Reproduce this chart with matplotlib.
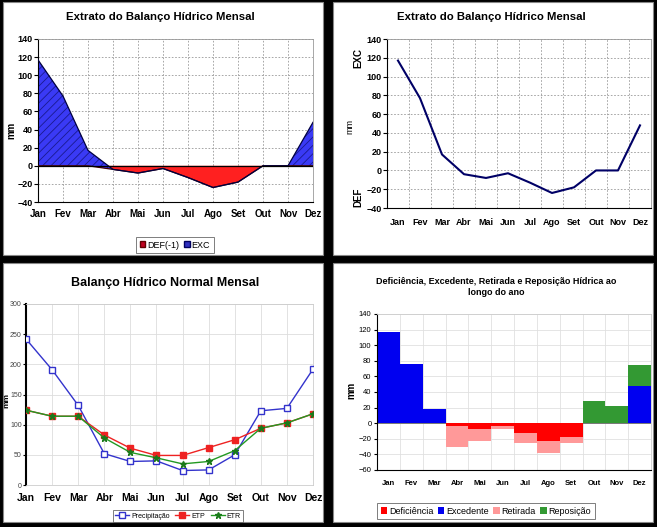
import matplotlib
matplotlib.use("Agg")
import matplotlib.pyplot as plt
from matplotlib.patches import Rectangle, Patch
import numpy as np

plt.rcParams['font.family'] = ['Liberation Sans', 'DejaVu Sans']
plt.rcParams['hatch.linewidth'] = 0.6

meses = ['Jan', 'Fev', 'Mar', 'Abr', 'Mai', 'Jun', 'Jul', 'Ago', 'Set', 'Out', 'Nov', 'Dez']

# Extrato
exc = [117, 77, 17, 0, 0, 0, 0, 0, 0, 0, 0, 48]
deficit = [0, 0, 0, -4, -8, -3, -13, -24, -18, 0, 0, 0]

# Balanço normal
precip = [242, 191, 132, 52, 39, 40, 24, 25, 50, 123, 127, 192]
etp = [124, 114, 114, 83, 61, 49, 49, 62, 75, 94, 103, 118]
etr = [124, 114, 114, 78, 54, 45, 35, 39, 57, 94, 103, 118]

# Barras
excedente = [117, 76, 18, 0, 0, 0, 0, 0, 0, 0, 0, 48]
reposicao = [0, 0, 0, 0, 0, 0, 0, 0, 0, 28, 22, 27]
deficiencia = [0, 0, 0, -4, -8, -3, -12, -23, -18, 0, 0, 0]
retirada = [0, 0, 0, -27, -15, -5, -13, -15, -8, 0, 0, 0]

W, H = 657, 527
fig = plt.figure(figsize=(W / 100, H / 100), dpi=100)
fig.patch.set_facecolor('black')


def rect(l, t, r, b):
    return [l / W, 1 - b / H, (r - l) / W, (b - t) / H]


def panel(l, t, r, b):
    fig.add_artist(Rectangle((l / W, 1 - b / H), (r - l) / W, (b - t) / H,
                             transform=fig.transFigure, facecolor='white',
                             edgecolor='#888888', linewidth=0.8, zorder=0))


panel(3, 2, 323, 255)
panel(333, 2, 653, 255)
panel(3, 263, 323, 522)
panel(333, 263, 653, 522)

x = np.arange(12)
ex = np.array(exc)
de = np.array(deficit)

# ---------- Panel 1 ----------
ax1 = fig.add_axes(rect(38, 39, 313, 202))
ax1.fill_between(x, 0, de, facecolor='#FF2020', linewidth=0, zorder=2)
ax1.fill_between(x, de, de + ex, facecolor='#3A3AF5', edgecolor='#1A1A90', hatch='////', linewidth=0, zorder=2)
ax1.plot(x, de, color='#400000', lw=0.9, zorder=3)
ax1.plot(x, de + ex, color='#000040', lw=0.9, zorder=3)
ax1.axhline(0, color='black', lw=0.9, zorder=3)
ax1.set_xlim(0, 11)
ax1.set_ylim(-40, 140)
ax1.set_yticks(range(-40, 141, 20))
ax1.set_xticks(x)
ax1.set_xticklabels(meses, fontsize=7, fontweight='bold')
ax1.tick_params(axis='y', labelsize=6.5, length=3, pad=1)
for lab in ax1.get_yticklabels():
    lab.set_fontweight('bold')
ax1.tick_params(axis='x', length=0, pad=5)
ax1.grid(True, color='#999999', ls=(0, (2, 2)), lw=0.6)
ax1.set_axisbelow(True)
for s in ['top', 'right']:
    ax1.spines[s].set_color('#999999')
    ax1.spines[s].set_linewidth(0.6)
fig.text(11 / W, 1 - 130 / H, 'mm', rotation=90, ha='center', va='center', fontsize=7, fontweight='bold')
fig.text(160 / W, 1 - 17 / H, 'Extrato do Balanço Hídrico Mensal', ha='center', va='center',
         fontsize=8.2, fontweight='bold')
leg1 = ax1.legend(handles=[Patch(facecolor='#C00020', edgecolor='#600000', label='DEF(-1)'),
                           Patch(facecolor='#3030C0', edgecolor='#000060', label='EXC')],
                  loc='center', bbox_to_anchor=(175 / W, 1 - 245 / H), bbox_transform=fig.transFigure,
                  ncol=2, fontsize=6.5, frameon=True, fancybox=False, edgecolor='#444444',
                  handlelength=0.6, handleheight=0.6, handletextpad=0.2, columnspacing=0.6,
                  borderpad=0.4)
leg1.get_frame().set_linewidth(0.6)

# ---------- Panel 2 ----------
ax2 = fig.add_axes(rect(387, 39, 651, 208))
ax2.plot(x, de + ex, color='#000066', lw=1.5, zorder=3)
ax2.set_xlim(-0.5, 11.5)
ax2.set_ylim(-40, 140)
ax2.set_yticks(range(-40, 141, 20))
ax2.set_xticks(x)
ax2.set_xticklabels(meses, fontsize=6.5, fontweight='bold')
ax2.set_xticks(np.arange(-0.5, 11.6, 1), minor=True)
ax2.tick_params(axis='x', which='both', length=0, pad=7)
ax2.tick_params(axis='y', labelsize=6.5, length=3, pad=1)
for lab in ax2.get_yticklabels():
    lab.set_fontweight('bold')
ax2.grid(True, which='minor', axis='x', color='#999999', ls=(0, (2, 2)), lw=0.6)
ax2.grid(True, which='major', axis='y', color='#999999', ls=(0, (2, 2)), lw=0.6)
ax2.set_axisbelow(True)
for s in ['top', 'right']:
    ax2.spines[s].set_color('#999999')
    ax2.spines[s].set_linewidth(0.6)
fig.text(350 / W, 1 - 127 / H, 'mm', rotation=90, ha='center', va='center', fontsize=6.5)
fig.text(358 / W, 1 - 58 / H, 'EXC', rotation=90, ha='center', va='center', fontsize=7, fontweight='bold')
fig.text(358 / W, 1 - 197 / H, 'DEF', rotation=90, ha='center', va='center', fontsize=7, fontweight='bold')
fig.text(491 / W, 1 - 17 / H, 'Extrato do Balanço Hídrico Mensal', ha='center', va='center',
         fontsize=8.2, fontweight='bold')

# ---------- Panel 3 ----------
ax3 = fig.add_axes(rect(26, 304, 313, 485))
ax3.plot(x, precip, color='#3333CC', lw=1, marker='s', ms=5, mfc='white', mec='#3333CC', mew=1, zorder=3,
         label='Precipitação')
ax3.plot(x, etp, color='#EE2222', lw=1, marker='s', ms=4.5, mfc='#EE2222', mec='#EE2222', zorder=3, label='ETP')
ax3.plot(x, etr, color='#229922', lw=1, marker='*', ms=4.5, mfc='#1A7A1A', mec='#1A7A1A', zorder=4, label='ETR')
ax3.set_xlim(0, 11)
ax3.set_ylim(0, 300)
ax3.set_yticks(range(0, 301, 50))
ax3.set_xticks(x)
ax3.set_xticklabels(meses, fontsize=7.5, fontweight='bold')
ax3.tick_params(axis='x', length=0, pad=6)
ax3.tick_params(axis='y', labelsize=5, length=2, pad=1, labelcolor='#444444')
ax3.grid(True, color='#DDDDDD', lw=0.6)
ax3.set_axisbelow(True)
ax3.spines['left'].set_linewidth(1.5)
for s in ['top', 'right', 'bottom']:
    ax3.spines[s].set_color('#CCCCCC')
    ax3.spines[s].set_linewidth(0.6)
fig.text(7 / W, 1 - 400 / H, 'mm', rotation=90, ha='center', va='center', fontsize=6, fontweight='bold')
fig.text(165 / W, 1 - 283 / H, 'Balanço Hídrico Normal Mensal', ha='center', va='center',
         fontsize=9, fontweight='bold')
leg3 = ax3.legend(loc='center', bbox_to_anchor=(178 / W, 1 - 516 / H), bbox_transform=fig.transFigure,
                  ncol=3, fontsize=5, frameon=True, fancybox=False, edgecolor='#444444',
                  handlelength=2.0, handletextpad=0.3, columnspacing=0.8, borderpad=0.3)
leg3.get_frame().set_linewidth(0.6)

# ---------- Panel 4 ----------
ax4 = fig.add_axes(rect(377, 314, 651, 470))
ax4.bar(x, deficiencia, width=1.0, color='#FF0000', zorder=2, label='Deficiência')
ax4.bar(x, excedente, width=1.0, color='#0000F0', zorder=2, label='Excedente')
ax4.bar(x, retirada, width=1.0, bottom=deficiencia, color='#FF9999', zorder=2, label='Retirada')
ax4.bar(x, reposicao, width=1.0, bottom=excedente, color='#339933', zorder=2, label='Reposição')
ax4.set_xlim(-0.5, 11.5)
ax4.set_ylim(-60, 140)
ax4.set_yticks(range(-60, 141, 20))
ax4.set_xticks(x)
ax4.set_xticklabels(meses, fontsize=5.5, fontweight='bold')
ax4.set_xticks(np.arange(-0.5, 11.6, 1), minor=True)
ax4.tick_params(axis='x', which='both', length=0, pad=7)
ax4.tick_params(axis='y', labelsize=5.5, length=2, pad=2)
ax4.grid(True, which='minor', axis='x', color='#E0E0E0', lw=0.6)
ax4.grid(True, which='major', axis='y', color='#E0E0E0', lw=0.6)
ax4.set_axisbelow(True)
ax4.axhline(0, color='#666666', lw=0.6, zorder=1)
for s in ['top', 'right']:
    ax4.spines[s].set_color('#CCCCCC')
    ax4.spines[s].set_linewidth(0.6)
fig.text(351 / W, 1 - 390 / H, 'mm', rotation=90, ha='center', va='center', fontsize=7, fontweight='bold')
fig.text(496 / W, 1 - 287 / H, 'Deficiência, Excedente, Retirada e Reposição Hídrica ao\nlongo do ano',
         ha='center', va='center', fontsize=6.5, fontweight='bold', linespacing=1.35)
leg4 = ax4.legend(loc='center', bbox_to_anchor=(486 / W, 1 - 511 / H), bbox_transform=fig.transFigure,
                  ncol=4, fontsize=6.5, frameon=True, fancybox=False, edgecolor='#444444',
                  handlelength=0.7, handleheight=0.7, handletextpad=0.2, columnspacing=0.5, borderpad=0.4)
leg4.get_frame().set_linewidth(0.6)

fig.savefig('out.png', dpi=100, facecolor=fig.get_facecolor())
